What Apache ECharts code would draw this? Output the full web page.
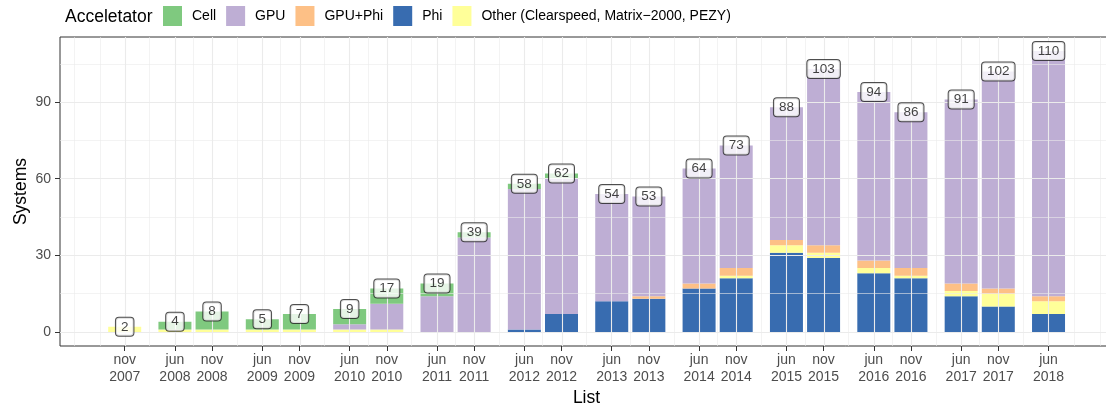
<!DOCTYPE html>
<html>
<head>
<meta charset="utf-8">
<script src="https://cdn.jsdelivr.net/npm/echarts@6/dist/echarts.min.js"></script>
<style>
  html, body { margin: 0; padding: 0; background: #fff; }
  #chart { width: 1106px; height: 407px; }
</style>
</head>
<body>
<div id="chart"></div>
<script>
// ---- data ----
const months = ['nov','jun','nov','jun','nov','jun','nov','jun','nov','jun','nov','jun','nov','jun','nov','jun','nov','jun','nov','jun','nov','jun'];
const years  = [2007,2008,2008,2009,2009,2010,2010,2011,2011,2012,2012,2013,2013,2014,2014,2015,2015,2016,2016,2017,2017,2018];
const cell   = [0,3,7,4,6,6,6,5,2,2,2,0,0,0,0,0,0,0,0,0,0,0];
const gpu    = [0,0,0,0,0,2,10,14,37,55,53,42,39,45,48,52,69,66,61,72,85,96];
const gpuPhi = [0,0,0,0,0,0,0,0,0,0,0,0,1,2,3,2,3,3,3,3,2,2];
const phi    = [0,0,0,0,0,0,0,0,0,1,7,12,13,17,21,31,29,23,21,14,10,7];
const other  = [2,1,1,1,1,1,1,0,0,0,0,0,0,0,1,3,2,2,1,2,5,5];
const yTicks = [0,30,60,90];
const yMinorTicks = [15,45,75,105];
// extra minor grid positions outside the first/last list (decimal years)
const xEdgeMinor = [2007.295, 2007.585, 2018.75, 2019.04];

// ---- helpers ----
const monthOffset = { jun: 0.45, nov: 0.875 };
const dates = months.map((m, i) => years[i] + monthOffset[m]);   // decimal years
const xMin = 2007.1344, xMax = 2019.188;
const totals = dates.map((d, i) => cell[i] + gpu[i] + gpuPhi[i] + phi[i] + other[i]);

const xMid = [];
for (let i = 0; i < dates.length - 1; i++) xMid.push((dates[i] + dates[i + 1]) / 2);

const gridColor = '#ebebeb';
const majorStyle = { color: gridColor, width: 1.1, type: 'solid' };
const minorStyle = { color: gridColor, width: 0.6, type: 'solid' };
const gridLines = []
  .concat(yMinorTicks.map(v => ({ yAxis: v, lineStyle: minorStyle })))
  .concat(xMid.concat(xEdgeMinor).map(v => ({ xAxis: v, lineStyle: minorStyle })))
  .concat(yTicks.map(v => ({ yAxis: v, lineStyle: majorStyle })))
  .concat(dates.map(v => ({ xAxis: v, lineStyle: majorStyle })));

const FONT = '"Liberation Sans", Arial, Helvetica, sans-serif';
const OTHER = 'Other (Clearspeed, Matrix\u22122000, PEZY)';

// stacking order, bottom to top
const stackOrder = [
  { name: 'Phi', values: phi, color: '#386cb0' },
  { name: OTHER, values: other, color: '#ffff99' },
  { name: 'GPU+Phi', values: gpuPhi, color: '#fdc086' },
  { name: 'GPU', values: gpu, color: '#beaed4' },
  { name: 'Cell', values: cell, color: '#7fc97f' }
];

const BAR_W = 33;
function renderBar(params, api) {
  const x = api.value(0), y0 = api.value(1), y1 = api.value(2);
  if (!(y1 > y0)) return null;
  const p0 = api.coord([x, y0]);
  const p1 = api.coord([x, y1]);
  return {
    type: 'rect',
    shape: { x: p0[0] - BAR_W / 2, y: p1[1], width: BAR_W, height: p0[1] - p1[1] },
    style: { fill: api.visual('color') }
  };
}

const base = dates.map(() => 0);
const barSeries = stackOrder.map(s => {
  const data = s.values.map((v, i) => {
    const item = [dates[i], base[i], base[i] + v, v];
    base[i] += v;
    return item;
  });
  return {
    name: s.name, type: 'custom', z: 2, silent: true,
    itemStyle: { color: s.color },
    encode: { x: 0, y: [1, 2] },
    renderItem: renderBar,
    data: data
  };
});

const chart = echarts.init(document.getElementById('chart'), null, { renderer: 'canvas' });
chart.setOption({
  animation: false,
  backgroundColor: '#ffffff',
  textStyle: { fontFamily: FONT },
  grid: {
    left: 60, top: 37, width: 1053, height: 309,
    outerBoundsMode: 'none', containLabel: false,
    show: true, borderColor: '#333333', borderWidth: 1, backgroundColor: '#ffffff'
  },
  graphic: [{
    type: 'text', left: 65, top: 8,
    style: { text: 'Acceletator', font: '17.5px ' + FONT, fill: '#000000' }
  }],
  legend: {
    left: 163, top: 6, padding: 0,
    itemWidth: 19, itemHeight: 20, itemGap: 10,
    icon: 'rect',
    data: ['Cell', 'GPU', 'GPU+Phi', 'Phi', OTHER],
    textStyle: { fontSize: 14, color: '#000000', fontFamily: FONT, padding: [0, 0, 0, 5] }
  },
  xAxis: {
    type: 'value', min: xMin, max: xMax,
    name: 'List', nameLocation: 'middle', nameGap: 43, nameMoveOverlap: false,
    nameTextStyle: { fontSize: 17.5, color: '#000000', fontFamily: FONT },
    axisLine: { show: false, onZero: false },
    splitLine: { show: false },
    axisTick: { show: true, length: 5, customValues: dates, lineStyle: { color: '#333333', width: 1 } },
    axisLabel: {
      customValues: dates, margin: 6,
      fontSize: 14, lineHeight: 17, color: '#4d4d4d', fontFamily: FONT,
      formatter: function (v) {
        let idx = -1;
        for (let i = 0; i < dates.length; i++) if (Math.abs(dates[i] - v) < 1e-6) idx = i;
        return idx >= 0 ? months[idx] + '\n' + years[idx] : '';
      }
    }
  },
  yAxis: {
    type: 'value', min: -5.5, max: 115.5,
    name: 'Systems', nameLocation: 'middle', nameGap: 30, nameMoveOverlap: false,
    nameTextStyle: { fontSize: 17.5, color: '#000000', fontFamily: FONT },
    axisLine: { show: false, onZero: false },
    splitLine: { show: false },
    axisTick: { show: true, length: 5, customValues: yTicks, lineStyle: { color: '#333333', width: 1 } },
    axisLabel: { customValues: yTicks, margin: 9, fontSize: 14, color: '#4d4d4d', fontFamily: FONT }
  },
  series: [
    {
      name: 'grid', type: 'line', data: [], z: 1, silent: true,
      markLine: { silent: true, symbol: ['none', 'none'], label: { show: false }, animation: false, data: gridLines }
    }
  ].concat(barSeries).concat([
    {
      name: 'totals', type: 'scatter', z: 10, symbolSize: 1, silent: true,
      itemStyle: { color: 'rgba(0,0,0,0)' },
      data: dates.map((d, i) => [d, totals[i]]),
      label: {
        show: true, position: 'inside',
        formatter: p => String(p.value[1]),
        fontSize: 13.5, lineHeight: 14, color: '#111111', fontFamily: FONT,
        backgroundColor: '#ffffff', borderColor: '#222222', borderWidth: 1, borderRadius: 3,
        padding: [2, 5, 2, 5]
      }
    }
  ])
});
</script>
</body>
</html>
